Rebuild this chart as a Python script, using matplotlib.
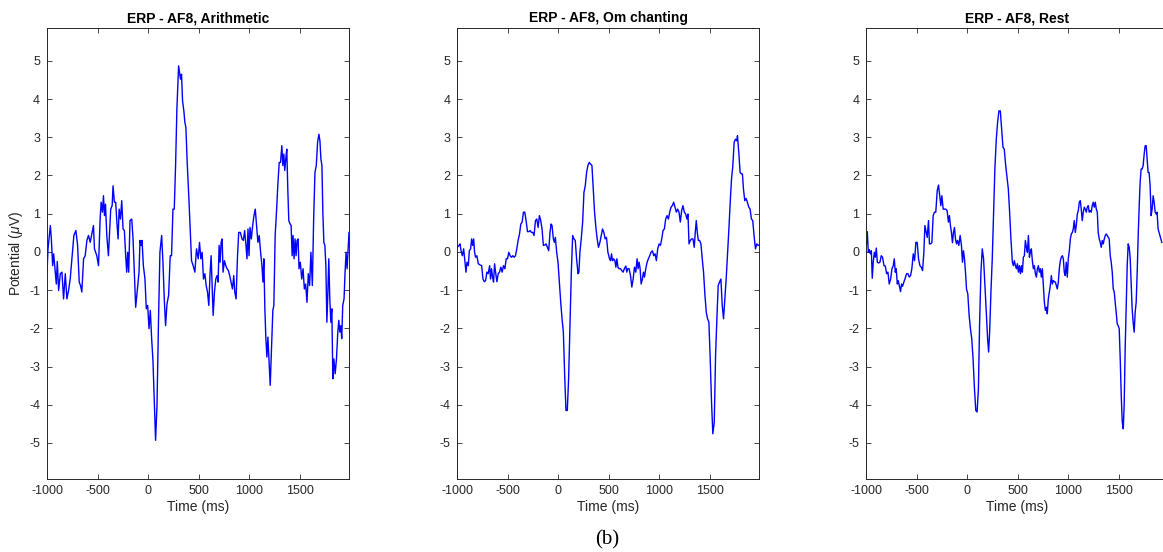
import matplotlib
matplotlib.use("Agg")
import matplotlib.pyplot as plt

plt.rcParams['font.family'] = ['Liberation Sans', 'DejaVu Sans']
plt.rcParams['mathtext.fontset'] = 'custom'
plt.rcParams['mathtext.rm'] = 'Liberation Sans'
plt.rcParams['mathtext.it'] = 'Liberation Sans:italic'
plt.rcParams['axes.unicode_minus'] = False

# ERP traces (time in ms, potential in uV)
arith_t = [-1000, -990, -967, -957, -944, -934, -918, -908, -898, -885,
           -868, -852, -836, -819, -803, -786, -770, -753, -734, -714,
           -697, -681, -668, -655, -638, -622, -605, -589, -572, -556,
           -540, -530, -507, -490, -474, -464, -451, -441, -431, -421,
           -408, -392, -382, -369, -355, -346, -333, -320, -306, -296,
           -286, -273, -260, -247, -234, -221, -211, -201, -191, -178,
           -161, -148, -135, -122, -105, -89, -79, -69, -59, -46,
           -30, -17, -3, 10, 23, 36, 49, 62, 75, 89,
           105, 118, 135, 148, 161, 174, 188, 204, 220, 233,
           247, 260, 273, 286, 303, 312, 322, 332, 342, 355,
           365, 375, 388, 405, 418, 431, 447, 464, 480, 497,
           510, 523, 536, 549, 563, 576, 589, 602, 615, 625,
           635, 645, 658, 671, 684, 694, 704, 714, 724, 734,
           743, 757, 770, 783, 796, 809, 822, 836, 849, 859,
           872, 885, 898, 914, 931, 944, 957, 970, 980, 990,
           1000, 1010, 1023, 1036, 1049, 1062, 1075, 1088, 1101, 1115,
           1128, 1138, 1147, 1157, 1167, 1177, 1187, 1197, 1210, 1223,
           1236, 1246, 1259, 1272, 1285, 1299, 1312, 1325, 1335, 1345,
           1354, 1364, 1374, 1384, 1394, 1407, 1417, 1427, 1436, 1446,
           1456, 1466, 1476, 1486, 1495, 1508, 1522, 1535, 1548, 1561,
           1574, 1587, 1600, 1613, 1627, 1640, 1653, 1666, 1679, 1692,
           1702, 1712, 1722, 1731, 1741, 1751, 1761, 1771, 1781, 1790,
           1800, 1810, 1820, 1830, 1840, 1853, 1866, 1879, 1889, 1899,
           1909, 1918, 1928, 1941, 1951, 1961, 1971, 1981, 1990]
arith_v = [-0.57, 0.08, 0.69, 0.34, -0.36, -0.05, -0.53, -0.84, -0.25, -1.01,
           -0.57, -0.53, -1.23, -0.57, -1.23, -1.0, -0.7, -0.18, 0.43, 0.56,
           0.17, -0.79, -0.88, -1.05, -0.18, -0.1, 0.3, 0.43, 0.25, 0.47,
           0.69, 0.08, -0.1, -0.36, 0.86, 1.3, 1.04, 1.47, 0.95, 1.25,
           0.43, -0.1, 0.43, 1.12, 1.21, 1.73, 1.3, 1.3, 0.69, 0.34,
           1.12, 0.86, 1.34, 0.6, 0.56, -0.1, -0.53, -0.01, -0.53, 0.82,
           0.86, 0.34, -0.53, -1.45, -0.97, -0.53, 0.3, 0.17, 0.3, -0.36,
           -0.71, -1.49, -1.4, -2.01, -1.53, -2.27, -2.84, -3.93, -4.93, -4.02,
           -1.66, -0.01, 0.43, -0.27, -1.23, -1.93, -1.36, -1.14, -0.1, -0.1,
           1.12, 1.12, 2.26, 3.74, 4.87, 4.7, 4.52, 4.65, 3.95, 3.69,
           3.39, 3.26, 2.34, 1.39, 0.6, -0.23, -0.36, -0.53, 0.08, -0.18,
           0.25, -0.18, -0.01, -0.71, -0.57, -0.88, -1.05, -1.4, -0.53, -0.1,
           -0.88, -1.66, -1.05, -0.71, -0.62, -0.79, 0.17, -0.27, 0.25, 0.34,
           -0.53, -0.23, -0.36, -0.44, -0.49, -0.62, -0.79, -0.97, -0.62, -1.05,
           -1.23, -0.18, 0.51, 0.51, 0.34, 0.3, 0.56, 0.17, -0.18, 0.6,
           -0.1, 0.64, 0.34, 0.69, 0.95, 1.12, 0.69, 0.25, 0.43, -0.01,
           -0.36, -0.79, -0.18, -1.49, -2.27, -2.75, -2.23, -2.79, -3.49, -2.53,
           -1.53, -1.4, 0.43, 1.04, 1.73, 2.34, 2.34, 2.78, 2.26, 2.56,
           2.13, 2.43, 2.69, 1.65, 0.82, 0.73, 0.69, -0.1, 0.43, -0.18,
           0.34, -0.1, 0.3, 0.34, -0.44, -0.27, -0.71, -0.44, -0.97, -0.84,
           -1.32, -0.57, -0.88, -0.01, -0.88, 0.86, 2.08, 2.26, 2.87, 3.08,
           2.91, 2.43, 2.26, 1.04, 0.25, 0.17, -0.36, -1.84, -1.05, -0.18,
           -1.23, -1.84, -1.49, -3.32, -2.8, -3.19, -2.8, -2.1, -1.79, -2.1,
           -1.93, -2.27, -1.4, -1.23, -0.53, -0.01, -0.44, 0.08, 0.51]

om_t = [-1000, -983, -973, -963, -950, -937, -924, -914, -904, -891,
        -881, -868, -858, -848, -838, -829, -819, -806, -792, -776,
        -759, -746, -733, -720, -707, -694, -680, -671, -661, -651,
        -641, -631, -621, -608, -595, -582, -569, -556, -543, -529,
        -516, -503, -490, -477, -463, -450, -437, -424, -411, -398,
        -384, -371, -358, -345, -332, -319, -305, -292, -279, -266,
        -253, -240, -226, -213, -200, -187, -174, -161, -148, -134,
        -121, -108, -95, -82, -72, -62, -49, -39, -29, -16,
        -3, 10, 24, 37, 50, 63, 76, 89, 102, 116,
        129, 142, 155, 168, 181, 195, 204, 214, 227, 241,
        254, 267, 280, 293, 306, 320, 333, 346, 359, 372,
        385, 398, 412, 425, 438, 451, 464, 477, 491, 507,
        517, 527, 537, 547, 560, 570, 580, 590, 603, 616,
        629, 642, 655, 669, 678, 688, 701, 715, 728, 741,
        754, 767, 780, 790, 800, 810, 820, 833, 843, 853,
        866, 879, 892, 905, 918, 932, 945, 958, 971, 984,
        998, 1011, 1024, 1037, 1050, 1063, 1077, 1090, 1103, 1116,
        1129, 1142, 1155, 1169, 1182, 1195, 1208, 1221, 1234, 1248,
        1261, 1274, 1284, 1294, 1307, 1320, 1333, 1346, 1356, 1366,
        1376, 1386, 1399, 1412, 1425, 1438, 1452, 1465, 1478, 1491,
        1504, 1517, 1530, 1544, 1557, 1570, 1583, 1596, 1610, 1623,
        1636, 1649, 1662, 1675, 1689, 1702, 1715, 1728, 1741, 1754,
        1767, 1774, 1787, 1800, 1813, 1823, 1833, 1846, 1859, 1872,
        1886, 1899, 1912, 1925, 1938, 1952, 1965, 1978, 1991]
om_v = [0.12, 0.17, 0.21, 0.03, -0.1, 0.08, -0.27, -0.53, -0.27, -0.36,
        0.03, 0.08, 0.34, 0.17, 0.34, -0.01, -0.14, -0.1, -0.31, -0.34,
        -0.36, -0.71, -0.78, -0.75, -0.53, -0.57, -0.36, -0.71, -0.44, -0.66,
        -0.79, -0.31, -0.53, -0.78, -0.57, -0.53, -0.4, -0.53, -0.36, -0.44,
        -0.18, -0.18, -0.01, -0.1, -0.14, -0.1, -0.14, -0.1, 0.08, 0.3,
        0.47, 0.73, 0.78, 1.04, 1.04, 0.82, 0.53, 0.53, 0.56, 0.51,
        0.51, 0.43, 0.82, 0.86, 0.64, 0.95, 0.82, 0.6, 0.17, 0.18,
        0.21, 0.12, 0.03, 0.51, 0.73, 0.69, 0.34, 0.25, 0.38, -0.01,
        -0.27, -0.79, -1.32, -1.75, -2.1, -3.23, -4.15, -4.15, -3.32, -1.84,
        -0.53, 0.43, 0.34, 0.3, -0.18, -0.57, -0.53, -0.01, 0.34, 0.78,
        1.56, 1.73, 2.08, 2.26, 2.34, 2.3, 2.26, 1.65, 1.04, 0.64,
        0.34, 0.12, 0.25, 0.43, 0.6, 0.51, 0.34, 0.38, -0.01, -0.18,
        -0.23, -0.05, -0.23, -0.18, -0.23, -0.4, -0.18, -0.4, -0.44, -0.44,
        -0.49, -0.53, -0.43, -0.37, -0.53, -0.44, -0.44, -0.62, -0.92, -0.71,
        -0.4, -0.53, -0.18, -0.44, -0.27, -0.44, -0.84, -0.71, -0.53, -0.66,
        -0.44, -0.27, -0.18, -0.1, -0.01, 0.03, -0.1, -0.05, -0.23, 0.08,
        0.21, 0.17, 0.34, 0.56, 0.6, 0.86, 0.95, 0.86, 1.04, 1.17,
        1.21, 1.3, 1.17, 1.04, 1.12, 1.04, 0.78, 1.08, 1.21, 1.04,
        0.99, 0.86, 0.99, 0.21, 0.3, 0.34, 0.34, 0.12, 0.51, 0.82,
        0.51, 0.3, 0.3, 0.21, -0.18, -0.53, -1.14, -1.58, -1.75, -1.84,
        -2.8, -3.93, -4.76, -4.46, -2.71, -1.75, -0.88, -0.79, -0.71, -1.4,
        -1.75, -1.23, -0.71, -0.1, 0.6, 1.3, 1.91, 2.26, 2.87, 2.95,
        2.91, 3.04, 2.6, 2.08, 2.04, 2.04, 1.65, 1.34, 1.4, 1.3,
        1.17, 1.12, 0.86, 0.82, 0.43, 0.08, 0.21, 0.17, 0.18]

rest_t = [-1000, -990, -980, -970, -960, -950, -941, -931, -921, -911,
          -901, -891, -878, -865, -852, -839, -825, -812, -799, -786,
          -773, -759, -746, -733, -723, -713, -704, -693, -684, -671,
          -661, -651, -641, -628, -615, -601, -588, -575, -562, -549,
          -535, -522, -509, -496, -483, -469, -456, -443, -430, -420,
          -410, -397, -384, -375, -365, -351, -338, -325, -312, -298,
          -285, -272, -262, -252, -239, -226, -213, -200, -187, -177,
          -167, -157, -147, -137, -127, -117, -107, -97, -84, -71,
          -58, -48, -38, -28, -18, -8, 5, 18, 31, 44,
          57, 71, 84, 97, 110, 122, 135, 148, 161, 175,
          188, 201, 211, 221, 234, 247, 260, 273, 287, 300,
          313, 327, 340, 353, 366, 380, 393, 406, 419, 432,
          446, 456, 466, 476, 486, 496, 506, 516, 526, 536,
          545, 555, 565, 575, 585, 595, 605, 615, 624, 634,
          644, 654, 664, 674, 684, 694, 704, 713, 723, 733,
          743, 753, 763, 773, 783, 792, 802, 812, 822, 832,
          842, 852, 862, 872, 881, 891, 901, 911, 921, 931,
          941, 951, 960, 970, 980, 990, 1000, 1010, 1020, 1030,
          1040, 1049, 1059, 1069, 1079, 1089, 1099, 1109, 1119, 1128,
          1138, 1148, 1158, 1168, 1178, 1188, 1198, 1207, 1217, 1227,
          1237, 1247, 1257, 1267, 1277, 1287, 1296, 1306, 1316, 1326,
          1336, 1346, 1356, 1366, 1376, 1385, 1395, 1405, 1415, 1425,
          1435, 1445, 1455, 1464, 1474, 1484, 1494, 1504, 1514, 1524,
          1534, 1544, 1553, 1563, 1573, 1583, 1593, 1603, 1613, 1623,
          1632, 1642, 1652, 1662, 1672, 1682, 1692, 1702, 1711, 1721,
          1731, 1741, 1751, 1761, 1771, 1781, 1790, 1800, 1810, 1820,
          1830, 1840, 1850, 1860, 1870, 1879, 1889, 1903, 1916, 1926]
rest_v = [0.17, 0.53, -0.01, 0.06, -0.05, 0.03, -0.69, -0.27, -0.01, -0.14,
          0.1, -0.27, -0.29, -0.27, -0.1, -0.14, -0.36, -0.37, -0.57, -0.53,
          -0.84, -0.71, -0.44, -0.36, -0.18, -0.53, -0.44, -0.84, -0.75, -0.92,
          -1.04, -0.84, -0.9, -0.79, -0.69, -0.57, -0.57, -0.66, -0.62, -0.44,
          -0.05, -0.23, 0.25, 0.25, -0.18, -0.36, -0.4, -0.49, -0.01, 0.69,
          0.56, 0.38, 0.82, 0.21, 0.21, 0.24, 0.95, 1.04, 1.04, 1.6,
          1.75, 1.43, 1.21, 1.47, 1.12, 1.12, 1.12, 1.08, 0.78, 0.95,
          0.69, 0.51, 0.24, 0.51, 0.64, 0.34, 0.21, 0.3, 0.17, 0.43,
          0.17, -0.27, 0.03, -0.18, -0.53, -0.97, -1.1, -1.66, -2.01, -2.27,
          -2.8, -3.58, -4.15, -4.19, -3.58, -1.84, -0.53, 0.08, -0.18, -0.88,
          -1.58, -2.27, -2.62, -2.1, -1.05, -0.18, 1.04, 2.17, 2.95, 3.39,
          3.69, 3.69, 3.21, 2.74, 2.69, 2.26, 1.95, 1.65, 1.04, 0.34,
          -0.27, -0.36, -0.23, -0.36, -0.44, -0.31, -0.53, -0.36, -0.57, -0.36,
          -0.53, -0.14, -0.1, 0.3, 0.12, -0.01, 0.43, -0.14, -0.01, 0.08,
          -0.23, -0.44, -0.36, -0.57, -0.66, -0.44, -0.36, -0.53, -0.44, -0.66,
          -0.44, -0.88, -1.32, -1.53, -1.45, -1.62, -1.23, -1.05, -0.88, -0.62,
          -0.84, -0.75, -0.78, -0.79, -0.88, -0.97, -0.79, -0.44, -0.23, -0.14,
          -0.1, -0.18, -0.53, -0.62, -0.27, -0.66, -0.18, 0.03, 0.34, 0.47,
          0.51, 0.6, 0.82, 0.51, 0.69, 0.99, 1.08, 1.3, 1.34, 1.12,
          0.82, 1.04, 1.17, 1.12, 1.04, 1.17, 1.21, 1.04, 1.08, 1.04,
          1.21, 1.3, 1.17, 1.3, 1.12, 1.04, 0.51, 0.34, 0.25, 0.12,
          0.3, 0.21, 0.34, 0.43, 0.47, 0.43, 0.38, 0.34, -0.1, -0.27,
          -0.53, -0.97, -1.05, -1.32, -1.58, -1.88, -1.93, -2.01, -2.8, -3.75,
          -4.45, -4.63, -4.02, -2.53, -1.4, -0.36, 0.21, 0.12, -0.18, -0.88,
          -1.49, -1.84, -2.1, -1.58, -1.32, -0.53, 0.43, 1.21, 1.82, 2.17,
          2.17, 2.26, 2.56, 2.78, 2.78, 2.39, 2.08, 2.08, 1.73, 0.95,
          1.12, 1.47, 1.3, 1.04, 0.99, 1.04, 0.6, 0.47, 0.34, 0.25]

titles = ['ERP - AF8, Arithmetic', 'ERP - AF8, Om chanting', 'ERP - AF8, Rest']
x_ticks = [-1000, -500, 0, 500, 1000, 1500]
y_ticks = [-5, -4, -3, -2, -1, 0, 1, 2, 3, 4, 5]

W, H = 1163, 552
fig = plt.figure(figsize=(W / 100, H / 100), dpi=100)

# axes boxes in pixels (left edge), same size for all three
lefts = [47, 457.3, 866.3]
ax_w, ax_top, ax_bot = 302, 27.6, 478.5

grey = '#262626'


# MATLAB-like styling for one panel
def style_axes(ax, title):
    ax.set_xlim(-1000, 1990)
    ax.set_ylim(-5.93, 5.87)
    ax.set_xticks(x_ticks)
    ax.set_yticks(y_ticks)
    ax.tick_params(direction='in', length=3.5, width=0.6, top=True, right=True,
                   labelsize=9, colors=grey, pad=5)
    for s in ax.spines.values():
        s.set_color(grey)
        s.set_linewidth(0.7)
    ax.set_title(title, fontsize=10, fontweight='bold', pad=4)
    ax.set_xlabel('Time (ms)', fontsize=10, color=grey, labelpad=2)


series = [(arith_t, arith_v), (om_t, om_v), (rest_t, rest_v)]
for i, (t, v) in enumerate(series):
    ax = fig.add_axes([lefts[i] / W, 1 - ax_bot / H, ax_w / W, (ax_bot - ax_top) / H])
    ax.plot(t, v, color='#0000ff', linewidth=1.0)
    style_axes(ax, titles[i])
    if i == 0:
        ax.set_ylabel(r'Potential ($\mu$V)', fontsize=10, color=grey, labelpad=3)

fig.text(607 / W, 1 - 540 / H, '(b)', family='Liberation Serif', fontsize=15,
         ha='center', va='center')

fig.savefig('out.png', dpi=100)
